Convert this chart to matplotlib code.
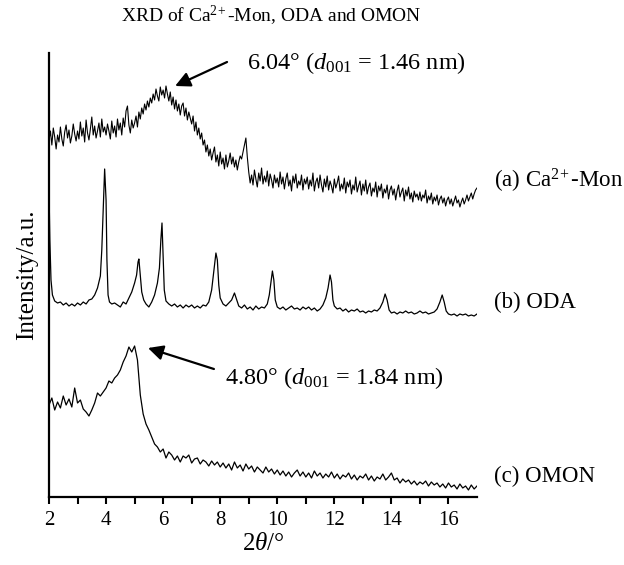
import numpy as np
import matplotlib
matplotlib.use('Agg')
import matplotlib.pyplot as plt
from matplotlib.ticker import FixedLocator

plt.rcParams['font.family'] = ['Liberation Serif', 'DejaVu Serif']
plt.rcParams['mathtext.fontset'] = 'custom'
plt.rcParams['mathtext.rm'] = 'Liberation Serif'
plt.rcParams['mathtext.it'] = 'Liberation Serif:italic'

# 2theta grids
theta_a = np.round(np.arange(2.0, 17.001, 0.05), 2)
two_theta = np.round(np.arange(2.0, 17.001, 0.1), 2)

# (a) Ca2+-Mon, intensity in a.u. (stacked), one row per degree
ca_mon = [357, 366, 352, 369, 360, 348, 362, 355, 370, 358, 351, 365, 372, 359, 367, 354, 361, 373, 363, 356,
          366, 358, 375, 361, 369, 355, 377, 364, 357, 368, 380, 362, 371, 359, 366, 374, 360, 378, 365, 370,
          362, 373, 366, 358, 376, 364, 371, 360, 378, 367, 374, 362, 379, 370, 386, 391, 372, 364, 377, 369,
          374, 381, 370, 385, 378, 389, 383, 393, 387, 396, 390, 399, 394, 403, 397, 408, 401, 396, 410, 402,
          407, 399, 411, 403, 396, 405, 392, 400, 388, 397, 386, 393, 382, 391, 394, 381, 389, 377, 385, 379,
          373, 381, 366, 375, 362, 369, 358, 364, 352, 357, 345, 352, 341, 348, 337, 344, 350, 335, 342, 331,
          345, 333, 339, 328, 342, 330, 336, 344, 333, 340, 330, 337, 327, 335, 341, 338, 345, 352, 359, 340,
          325, 314, 322, 312, 327, 318, 310, 324, 316, 329, 313, 321, 315, 326, 311, 323, 317, 309, 322, 314,
          319, 310, 325, 313, 320, 308, 318, 324, 311, 317, 306, 321, 314, 323, 309, 316, 312, 322, 307, 318,
          313, 320, 308, 317, 311, 324, 306, 315, 319, 309, 322, 312, 305, 318, 310, 321, 307, 316, 311, 304,
          318, 309, 314, 321, 306, 313, 308, 319, 304, 315, 310, 317, 303, 312, 307, 320, 305, 311, 316, 302,
          313, 306, 317, 303, 310, 314, 301, 309, 305, 315, 300, 311, 306, 313, 299, 308, 304, 312, 298, 307,
          311, 302, 308, 297, 306, 312, 300, 305, 309, 296, 307, 301, 310, 298, 304, 295, 306, 300, 303, 297,
          305, 296, 302, 299, 307, 294, 301, 297, 304, 293, 300, 296, 302, 292, 298, 301, 294, 299, 291, 297,
          300, 293, 298, 291, 296, 301, 294, 297, 290, 295, 299, 293, 297, 302, 296, 300, 304, 298, 303, 307,
          309]

# (c) OMON
omon = [92, 99, 87, 95, 89, 101, 92, 98, 90, 109,
        94, 97, 88, 85, 81, 87, 94, 104, 101, 105,
        109, 116, 114, 119, 122, 127, 135, 141, 150, 145,
        151, 137, 102, 83, 73, 67, 60, 53, 50, 45,
        48, 39, 45, 42, 37, 41, 35, 41, 39, 42,
        34, 38, 39, 33, 37, 35, 31, 36, 32, 35,
        30, 34, 29, 33, 27, 35, 29, 32, 26, 33,
        28, 31, 25, 30, 27, 24, 30, 25, 28, 23,
        27, 22, 26, 21, 25, 20, 24, 27, 21, 25,
        20, 24, 19, 26, 21, 24, 19, 23, 20, 25,
        19, 23, 18, 22, 20, 24, 18, 22, 17, 21,
        19, 23, 17, 21, 16, 20, 18, 23, 17, 20,
        24, 17, 19, 14, 18, 15, 17, 13, 16, 12,
        15, 13, 16, 11, 15, 12, 14, 10, 13, 9,
        14, 10, 12, 8, 13, 9, 11, 7, 12, 8,
        11]

# (b) ODA, sharper peaks so its own 2theta points
oda_theta = [2.00, 2.03, 2.07, 2.12, 2.2, 2.3, 2.4, 2.5, 2.6, 2.7, 2.8, 2.9,
             3.0, 3.1, 3.2, 3.3, 3.4, 3.5, 3.6, 3.7, 3.8, 3.85, 3.9, 3.95,
             4.0, 4.03, 4.07, 4.12, 4.2, 4.3, 4.4, 4.5, 4.6, 4.7, 4.8, 4.9,
             5.0, 5.07, 5.12, 5.15, 5.2, 5.25, 5.32, 5.4, 5.5, 5.6, 5.7, 5.8,
             5.87, 5.92, 5.96, 6.0, 6.04, 6.1, 6.2, 6.3, 6.4, 6.5, 6.6, 6.7,
             6.8, 6.9, 7.0, 7.1, 7.2, 7.3, 7.4, 7.5, 7.6, 7.7, 7.78, 7.85,
             7.9, 7.95, 8.0, 8.1, 8.2, 8.3, 8.4, 8.5, 8.58, 8.65, 8.75, 8.85,
             8.95, 9.05, 9.15, 9.25, 9.35, 9.45, 9.55, 9.65, 9.72, 9.78, 9.83, 9.88,
             9.93, 10.0, 10.1, 10.2, 10.3, 10.4, 10.5, 10.6, 10.7, 10.8, 10.9, 11.0,
             11.1, 11.2, 11.3, 11.4, 11.5, 11.6, 11.7, 11.78, 11.85, 11.9, 11.95, 12.0,
             12.1, 12.2, 12.3, 12.4, 12.5, 12.6, 12.7, 12.8, 12.9, 13.0, 13.1, 13.2,
             13.3, 13.4, 13.5, 13.6, 13.7, 13.78, 13.85, 13.92, 14.0, 14.1, 14.2, 14.3,
             14.4, 14.5, 14.6, 14.7, 14.8, 14.9, 15.0, 15.1, 15.2, 15.3, 15.4, 15.5,
             15.6, 15.7, 15.78, 15.85, 15.92, 16.0, 16.1, 16.2, 16.3, 16.4, 16.5, 16.6,
             16.7, 16.8, 16.9, 17.0]
oda = [307, 257, 217, 202, 196, 194, 195, 192, 194, 191, 193, 191,
       194, 192, 195, 193, 197, 198, 202, 209, 221, 247, 287, 328,
       297, 237, 202, 195, 193, 194, 192, 190, 195, 193, 199, 205,
       214, 222, 235, 238, 222, 205, 197, 193, 190, 195, 202, 214,
       229, 257, 274, 242, 207, 196, 193, 191, 193, 190, 192, 189,
       192, 190, 192, 189, 191, 189, 192, 191, 195, 207, 227, 244,
       237, 212, 199, 193, 191, 194, 197, 204, 197, 191, 189, 192,
       188, 190, 187, 191, 188, 190, 189, 193, 202, 215, 226, 217,
       197, 190, 188, 190, 187, 189, 191, 188, 189, 187, 190, 188,
       190, 187, 189, 186, 188, 192, 199, 209, 222, 215, 197, 191,
       188, 189, 186, 188, 185, 187, 186, 188, 185, 186, 184, 186,
       185, 187, 186, 189, 195, 203, 197, 187, 184, 185, 183, 185,
       184, 186, 184, 185, 183, 184, 186, 184, 185, 183, 184, 185,
       188, 195, 202, 195, 186, 183, 182, 183, 181, 183, 182, 183,
       181, 182, 181, 183]

labels = [r'(a) Ca$^{2\!+}$-Mon', '(b) ODA', '(c) OMON']


fig = plt.figure(figsize=(6.24, 5.65), dpi=100)
ax = fig.add_axes([49/624, 68/565, 428/624, 444/565])

ax.plot(theta_a, ca_mon, color='black', lw=0.8)
ax.plot(oda_theta, oda, color='black', lw=0.9)
ax.plot(two_theta, omon, color='black', lw=0.9)

ax.set_xlim(2, 17)
ax.set_ylim(0, 444)
ax.spines['top'].set_visible(False)
ax.spines['right'].set_visible(False)
ax.spines['left'].set_linewidth(1.6)
ax.spines['bottom'].set_linewidth(1.6)
ax.set_yticks([])
ax.set_xticks(range(2, 17, 2))
ax.xaxis.set_minor_locator(FixedLocator(range(3, 17, 2)))
ax.tick_params(axis='x', which='both', direction='out', length=5, width=1.5,
               labelsize=15, pad=5)

ax.set_xlabel(r'2$\it{\theta}$/°', fontsize=18, labelpad=2)
ax.set_ylabel('Intensity/a.u.', fontsize=18, labelpad=8)
fig.text(271/624, 1 - 16/565, r'XRD of Ca$^{2\!+}$-Mon, ODA and OMON',
         fontsize=14, ha='center', va='center')

# labels at the right end of each pattern
label_y = [316, 195, 21]
for lab, yy in zip(labels, label_y):
    ax.text(17.6, yy, lab, fontsize=16.5, va='center', ha='left', clip_on=False)

arrow = dict(arrowstyle='-|>,head_length=0.9,head_width=0.45', color='black',
             lw=1.6, shrinkA=0, shrinkB=0)
ax.annotate('', xy=(6.42, 411), xytext=(8.24, 435), arrowprops=arrow,
            annotation_clip=False)
ax.text(8.94, 434, r'6.04° ($\it{d}$$_{001}$ = 1.46 nm)', fontsize=17.5,
        va='center', ha='left', clip_on=False)
ax.annotate('', xy=(5.47, 149), xytext=(7.78, 128), arrowprops=arrow)
ax.text(8.17, 119, r'4.80° ($\it{d}$$_{001}$ = 1.84 nm)', fontsize=17.5,
        va='center', ha='left')

fig.savefig('out.png', dpi=100)
